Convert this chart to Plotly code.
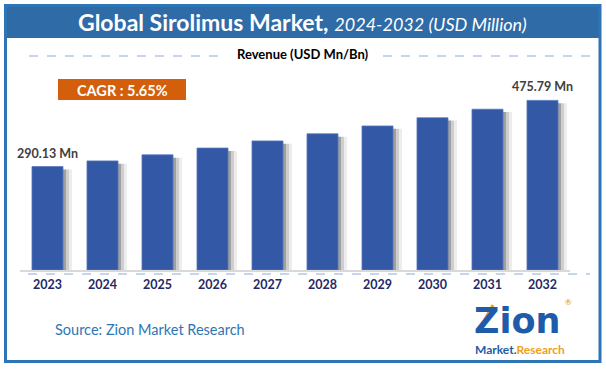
import plotly.graph_objects as go

years = ["2023", "2024", "2025", "2026", "2027", "2028", "2029", "2030", "2031", "2032"]
revenue = [290.13, 306.0, 323.0, 342.0, 362.0, 382.0, 404.0, 427.0, 451.0, 475.79]
labelled_years = ["2023", "2032"]
title_main = "Global Sirolimus Market,"
title_sub = "2024-2032 (USD Million)"
cagr_text = "CAGR : 5.65%"
axis_title = "Revenue (USD Mn/Bn)"
source_text = "Source: Zion Market Research"

W, H = 606, 370
L, R, T, B = 20, 570, 70, 270
FONT = "Lato"


def xp(px):
    return (px - L) / (R - L)


def yp(py):
    return (B - py) / (B - T)


pos = list(range(len(years)))
BAR_W = 0.564
fig = go.Figure()

# soft shadow to the right of each bar
shadow_vals = [v - 8 for v in revenue]
for shift, alpha in [(9, 0.07), (6, 0.13), (3, 0.22)]:
    fig.add_trace(go.Bar(
        x=pos, y=shadow_vals, width=BAR_W, offset=-BAR_W / 2 + shift / 55.0,
        marker=dict(color=f"rgba(0,0,0,{alpha})", line=dict(width=0)),
        hoverinfo="skip", showlegend=False,
    ))

fig.add_trace(go.Bar(
    x=pos, y=revenue, width=BAR_W, offset=-BAR_W / 2,
    marker=dict(color="#3358A6", line=dict(color="#5677BE", width=0.8)),
    showlegend=False,
))

annotations = []
for i, (yr, v) in enumerate(zip(years, revenue)):
    if yr in labelled_years:
        annotations.append(dict(
            x=i, y=v, xref="x", yref="y", text=f"<b>{v:.2f} Mn</b>",
            showarrow=False, yanchor="bottom", yshift=4,
            font=dict(family=FONT, size=12.5, color="#404040"),
        ))

annotations += [
    dict(x=xp(302), y=yp(22), xref="paper", yref="paper", showarrow=False,
         text=f"<b>{title_main}</b> <span style='font-size:18px'><i>{title_sub}</i></span>",
         font=dict(family=FONT, size=23, color="white"), xanchor="center", yanchor="middle"),
    dict(x=xp(303), y=yp(54), xref="paper", yref="paper", showarrow=False,
         text=f"<b>{axis_title}</b>", font=dict(family=FONT, size=13, color="#000000"),
         xanchor="center", yanchor="middle"),
    dict(x=xp(122), y=yp(90), xref="paper", yref="paper", showarrow=False,
         text=f"<b>{cagr_text}</b>", font=dict(family=FONT, size=14.5, color="white"),
         xanchor="center", yanchor="middle"),
    dict(x=xp(53), y=yp(329), xref="paper", yref="paper", showarrow=False,
         text=source_text, font=dict(family=FONT, size=14.5, color="#2E75B6"),
         xanchor="left", yanchor="middle"),
    dict(x=xp(517), y=yp(321), xref="paper", yref="paper", showarrow=False,
         text="<b>Zion</b>", font=dict(family="DejaVu Sans", size=35, color="#1E5BA8"),
         xanchor="center", yanchor="middle"),
    dict(x=xp(568), y=yp(302), xref="paper", yref="paper", showarrow=False,
         text="®", font=dict(family=FONT, size=8, color="#E08A1E"),
         xanchor="center", yanchor="middle"),
    dict(x=xp(520), y=yp(349), xref="paper", yref="paper", showarrow=False,
         text="<b><span style='color:#1E5BA8'>Market.</span><span style='color:#F0A020'>Research</span></b>",
         font=dict(family=FONT, size=12, color="#1E5BA8"),
         xanchor="center", yanchor="middle"),
]

shapes = [
    # title band
    dict(type="rect", xref="paper", yref="paper", x0=xp(5), x1=xp(600), y0=yp(38), y1=yp(5),
         fillcolor="#2E6BA7", line=dict(width=0), layer="below"),
    # outer frame
    dict(type="rect", xref="paper", yref="paper", x0=xp(5.5), x1=xp(600), y0=yp(361.5), y1=yp(5.5),
         line=dict(color="#2E75B6", width=3), layer="above"),
    # dashed lines beside axis title
    dict(type="line", xref="paper", yref="paper", x0=xp(29), x1=xp(222), y0=yp(56), y1=yp(56),
         line=dict(color="#8EA9DB", width=1, dash="dash")),
    dict(type="line", xref="paper", yref="paper", x0=xp(383), x1=xp(590), y0=yp(56), y1=yp(56),
         line=dict(color="#8EA9DB", width=1, dash="dash")),
    # dashed line under axis
    dict(type="line", xref="paper", yref="paper", x0=xp(28), x1=xp(590), y0=yp(274), y1=yp(274),
         line=dict(color="#8EA9DB", width=1, dash="dash")),
    # CAGR box
    dict(type="rect", xref="paper", yref="paper", x0=xp(58), x1=xp(186), y0=yp(100), y1=yp(79),
         fillcolor="#D35F0D", line=dict(width=0)),
    # logo arrow accent
    dict(type="line", xref="paper", yref="paper", x0=xp(477), x1=xp(493), y0=yp(333), y1=yp(305),
         line=dict(color="#F0A020", width=3)),
]

fig.update_layout(
    width=W, height=H,
    margin=dict(l=L, r=W - R, t=T, b=H - B, pad=0),
    paper_bgcolor="white", plot_bgcolor="white",
    barmode="overlay",
    xaxis=dict(range=[-0.5, len(years) - 0.5], tickmode="array", tickvals=pos, ticktext=years,
               showgrid=False, zeroline=False, showline=True, linecolor="#D9D9D9", linewidth=1.5,
               ticks="", tickfont=dict(family=FONT, size=12.5, color="#1F2A66", weight="bold"),
               ticklabelstandoff=2, fixedrange=True),
    yaxis=dict(visible=False, range=[0, 561], showgrid=False, fixedrange=True),
    annotations=annotations,
    shapes=shapes,
    font=dict(family=FONT),
    hovermode=False,
)

fig.write_html("out.html", config={"displayModeBar": False},
               post_script="document.body.style.margin='0';")
